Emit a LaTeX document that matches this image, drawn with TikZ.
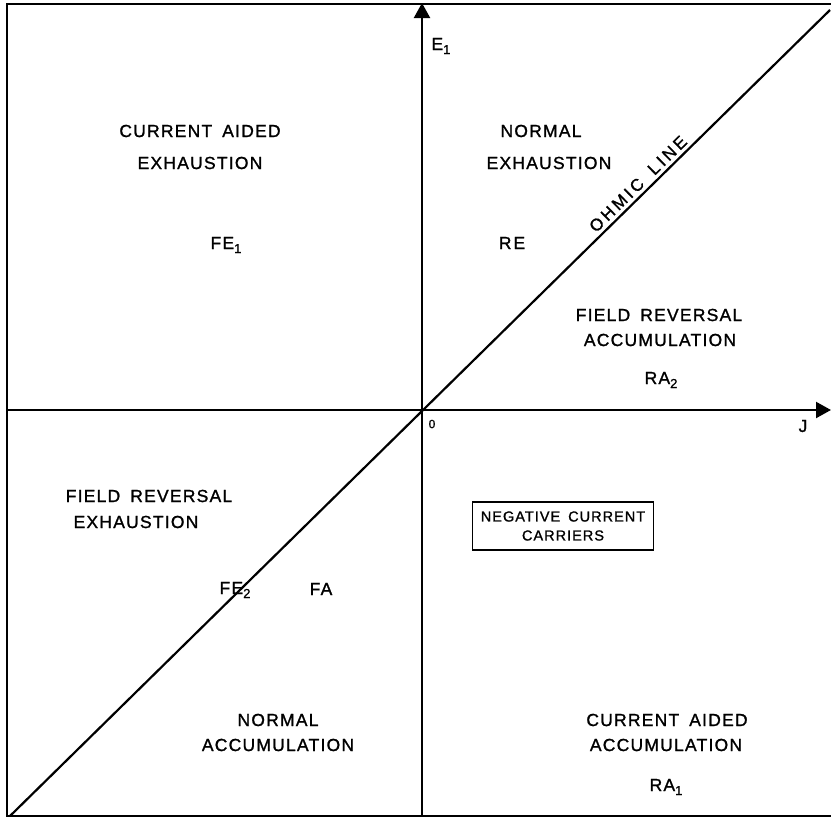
\documentclass[tikz,border=0pt]{standalone}
\usepackage{fontspec}
\setmainfont{Liberation Sans}[LetterSpace=7,FakeBold=1.2]
\usetikzlibrary{arrows.meta}
\newcommand{\subidx}[1]{\raisebox{-4pt}{\fontsize{13}{13}\selectfont #1}}
\newcommand{\wsp}{\hspace{10pt}}
\begin{document}
\begin{tikzpicture}[x=1pt,y=-1pt,
  lbl/.style={font=\fontsize{17.5}{20}\selectfont, inner sep=1pt, align=center},
  axis/.style={line width=2.2pt, -{Triangle[length=15pt,width=16pt]}},
  frame/.style={line width=2.8pt},
  diag/.style={line width=2.2pt}]
\useasboundingbox (0,0) rectangle (831,817);
% frame
\coordinate (TL) at (7,4);
\coordinate (TR) at (831,4);
\coordinate (BL) at (7,816);
\coordinate (BR) at (831,816);
\draw[frame] (TR) -- (TL) -- (BL) -- (BR);
% axes
\coordinate (O) at (422,410);
\coordinate (Ybot) at (422,816);
\coordinate (Ytop) at (422,3);
\coordinate (Xleft) at (7,410);
\coordinate (Xright) at (831,410);
\draw[axis] (Ybot) -- (Ytop);
\draw[axis] (Xleft) -- (Xright);
% ohmic line
\coordinate (Dlo) at (10,816);
\coordinate (Dhi) at (830,10);
\draw[diag] (Dlo) -- (Dhi);
% axis labels
\node[lbl] (E1) at (441,46) {E\subidx{1}};
\node[lbl] (J) at (803,426) {J};
\node[font=\fontsize{12}{14}\selectfont] (zero) at (432,424) {0};
\node[lbl, rotate=44.5, font=\fontsize{17}{20}\selectfont\addfontfeatures{LetterSpace=18}] (ohm) at (638,184) {OHMIC\hspace{13pt}LINE};
% quadrant labels
\node[lbl] (cae1) at (200,131) {CURRENT\wsp AIDED};
\node[lbl] (cae2) at (200,163) {EXHAUSTION};
\node[lbl] (fe1) at (226,245) {FE\subidx{1}};
\node[lbl] (ne1) at (541,131) {NORMAL};
\node[lbl] (ne2) at (549,163) {EXHAUSTION};
\node[lbl] (re) at (512,243) {R\hspace{2pt}E};
\node[lbl] (fra1) at (659,315) {FIELD\wsp REVERSAL};
\node[lbl] (fra2) at (660,340) {ACCUMULATION};
\node[lbl] (ra2) at (661,380) {RA\subidx{2}};
\node[lbl] (fre1) at (149,496) {FIELD\wsp REVERSAL};
\node[lbl] (fre2) at (136,522) {EXHAUSTION};
\node[lbl] (fe2) at (235,590) {FE\subidx{2}};
\node[lbl] (fa) at (321,589) {FA};
\node[draw, line width=1.8pt, font=\fontsize{14.5}{19}\selectfont, align=center, minimum width=181pt, minimum height=48pt, inner sep=2pt] (ncc) at (563,526) {NEGATIVE\hspace{8pt}CURRENT\\CARRIERS};
\node[lbl] (na1) at (278,720) {NORMAL};
\node[lbl] (na2) at (278,745) {ACCUMULATION};
\node[lbl] (caa1) at (667,720) {CURRENT\wsp AIDED};
\node[lbl] (caa2) at (666,745) {ACCUMULATION};
\node[lbl] (ra1) at (666,787) {RA\subidx{1}};
\end{tikzpicture}
\end{document}
